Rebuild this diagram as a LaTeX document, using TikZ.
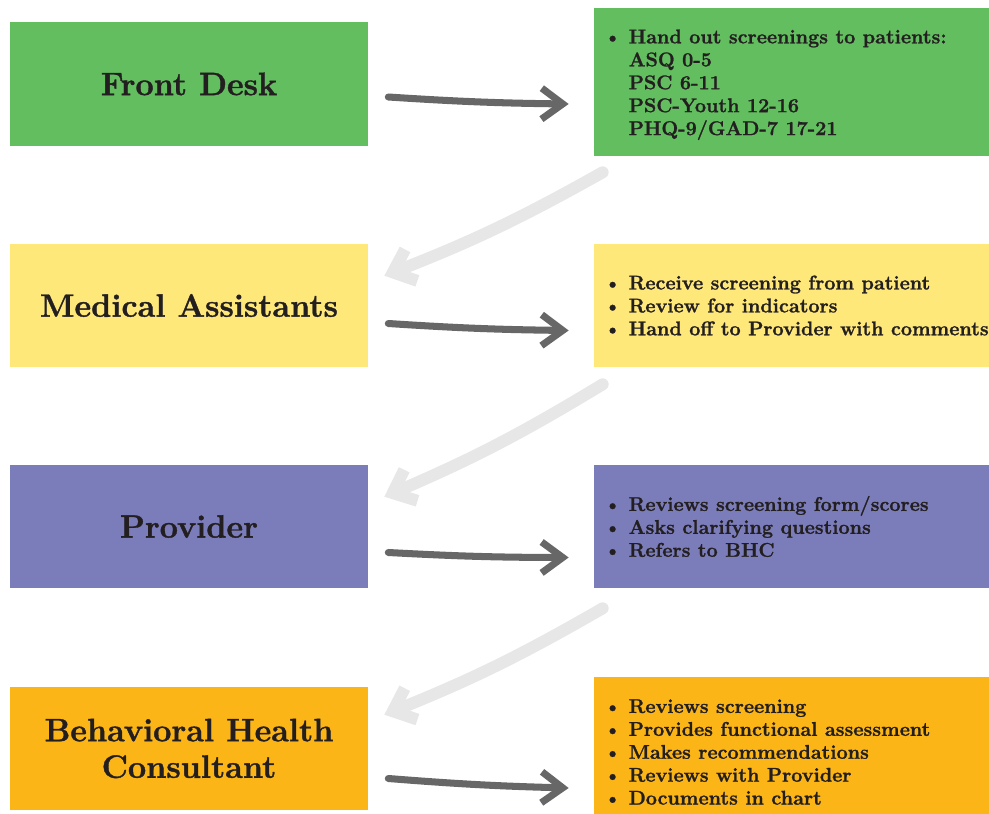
\documentclass[tikz,border=0pt]{standalone}
\usepackage{fontspec}
\setmainfont{Latin Modern Roman}[BoldFeatures={FakeBold=1.2}]
\usepackage{tikz}
\usetikzlibrary{arrows.meta,positioning,calc}

\definecolor{deskgreen}{HTML}{63BE60}
\definecolor{assistyellow}{HTML}{FFE87A}
\definecolor{provpurple}{HTML}{7B7DBB}
\definecolor{bhcorange}{HTML}{FBB517}
\definecolor{inkdark}{HTML}{231F20}
\definecolor{arrowgrey}{HTML}{676767}
\definecolor{palegrey}{HTML}{E6E7E6}

\begin{document}
\begin{tikzpicture}[x=0.025cm,y=-0.025cm,
    role_box/.style={rectangle,inner sep=0pt,minimum width=8.95cm,minimum height=3.075cm,
        align=center,text=inkdark,font=\fontsize{23}{26}\selectfont\bfseries},
    task_box/.style={rectangle,inner sep=0pt,minimum width=10.15cm,minimum height=3.075cm},
    task_text/.style={inner sep=0pt,align=left,text=inkdark,font=\fontsize{14.1}{16.3}\selectfont\bfseries},
    dark_arrow/.style={draw=arrowgrey,line width=5pt,line cap=round,
        -{Straight Barb[length=15pt,width=22pt]}},
    light_arrow/.style={draw=palegrey,line width=8.5pt,line cap=round,
        -{Straight Barb[length=14pt,width=24pt]}}]

    \useasboundingbox (0,0) rectangle (989,814);

    % who does it (left column)
    \node[role_box,fill=deskgreen] (fd) at (189,84) {Front Desk};
    \node[role_box,fill=assistyellow] (ma) at (189,305.5) {Medical Assistants};
    \node[role_box,fill=provpurple] (pv) at (189,526.5) {Provider};
    \node[role_box,fill=bhcorange] (bhc) at (189,748.5) {Behavioral Health\\Consultant};

    % what they do (right column)
    \node[task_box,fill=deskgreen,minimum height=3.7cm] (fd_do) at (797,82) {};
    \node[task_box,fill=assistyellow] (ma_do) at (797,305.5) {};
    \node[task_box,fill=provpurple] (pv_do) at (797,526.5) {};
    \node[task_box,fill=bhcorange,minimum height=3.75cm] (bhc_do) at (797,752) {};

    \node[task_text,right=0.25cm of fd_do.west,yshift=-2pt] (fd_txt) {\textbullet~Hand out screenings to patients:\\
        \phantom{\textbullet}~ASQ 0-5\\
        \phantom{\textbullet}~PSC 6-11\\
        \phantom{\textbullet}~PSC-Youth 12-16\\
        \phantom{\textbullet}~PHQ-9/GAD-7 17-21};
    \node[task_text,right=0.25cm of ma_do.west] (ma_txt) {\textbullet~Receive screening from patient\\
        \textbullet~Review for indicators\\
        \textbullet~Hand off to Provider with comments};
    \node[task_text,right=0.25cm of pv_do.west] (pv_txt) {\textbullet~Reviews screening form/scores\\
        \textbullet~Asks clarifying questions\\
        \textbullet~Refers to BHC};
    \node[task_text,right=0.25cm of bhc_do.west] (bhc_txt) {\textbullet~Reviews screening\\
        \textbullet~Provides functional assessment\\
        \textbullet~Makes recommendations\\
        \textbullet~Reviews with Provider\\
        \textbullet~Documents in chart};

    % across: role -> tasks
    \draw[dark_arrow] ($(fd.east)+(20,13)$) to[bend right=1.5] ($(fd_do.west)+(-25,22)$);
    \draw[dark_arrow] ($(ma.east)+(20,18)$) to[bend right=1.5] ($(ma_do.west)+(-25,25)$);
    \draw[dark_arrow] ($(pv.east)+(20,26)$) to[bend right=1.5] ($(pv_do.west)+(-25,31)$);
    \draw[dark_arrow] ($(bhc.east)+(20,30)$) to[bend right=1.5] ($(bhc_do.west)+(-25,36)$);

    % down: tasks -> next role
    \draw[light_arrow] ($(fd_do.south west)+(9,16)$) to[bend left=4] ($(ma.north east)+(16,32)$);
    \draw[light_arrow] ($(ma_do.south west)+(9,17)$) to[bend left=4] ($(pv.north east)+(16,32)$);
    \draw[light_arrow] ($(pv_do.south west)+(9,20)$) to[bend left=4] ($(bhc.north east)+(16,28)$);

\end{tikzpicture}
\end{document}
